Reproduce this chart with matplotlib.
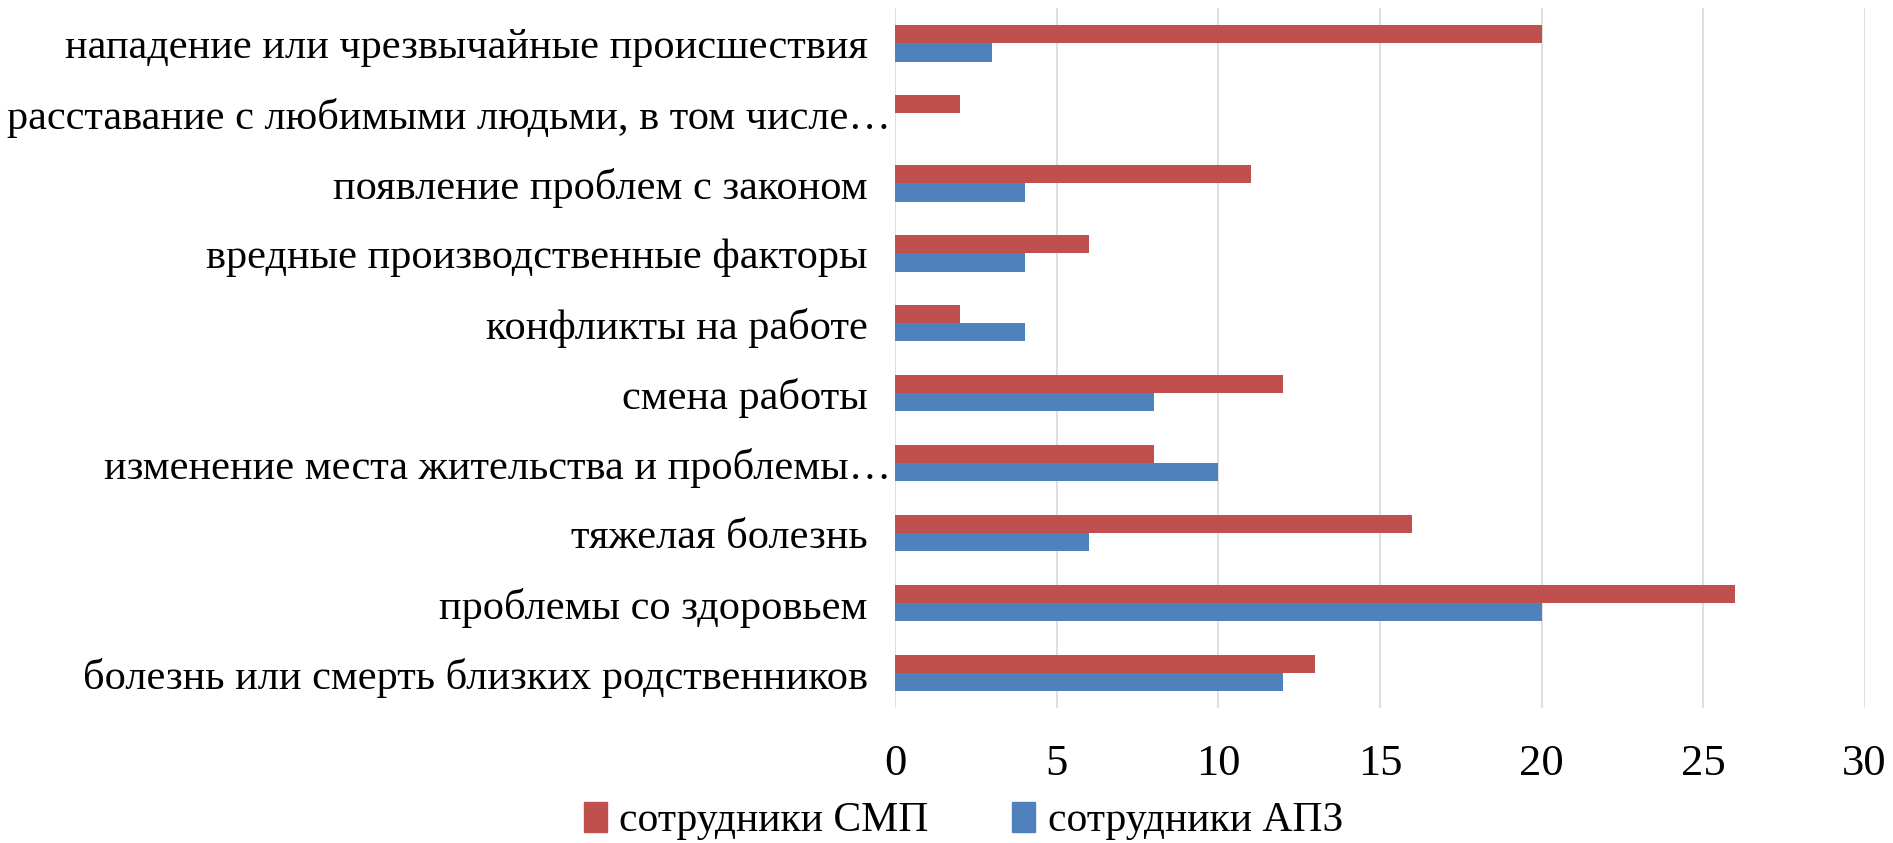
import matplotlib
matplotlib.use("Agg")
import matplotlib.pyplot as plt
from matplotlib.patches import Patch
import numpy as np

categories = [
    "нападение или чрезвычайные происшествия",
    "расставание с любимыми людьми, в том числе…",
    "появление проблем с законом",
    "вредные производственные факторы",
    "конфликты на работе",
    "смена работы",
    "изменение места жительства и проблемы…",
    "тяжелая болезнь",
    "проблемы со здоровьем",
    "болезнь или смерть близких родственников",
]
smp = [20, 2, 11, 6, 2, 12, 8, 16, 26, 13]
apz = [3, 0, 4, 4, 4, 8, 10, 6, 20, 12]
series_names = ["сотрудники СМП", "сотрудники АПЗ"]
xticks = [0, 5, 10, 15, 20, 25, 30]

RED = "#c0504d"
BLUE = "#4f81bd"

plt.rcParams['font.family'] = ['Liberation Serif', 'DejaVu Serif']

fig = plt.figure(figsize=(18.93, 8.43), dpi=100)
ax = fig.add_axes([0.473, 0.160, 0.512, 0.830])

n = len(categories)
y = np.arange(n)[::-1]
h = 0.26
ax.barh(y + h / 2, smp, height=h, color=RED, label=series_names[0])
ax.barh(y - h / 2, apz, height=h, color=BLUE, label=series_names[1])

ax.set_ylim(-0.5, n - 0.5)
ax.set_xlim(0, 30)
ax.set_xticks(xticks)
ax.set_xticklabels([str(t) for t in xticks])
ax.set_yticks(y)
ax.set_yticklabels(categories)
ax.tick_params(axis='x', length=0, pad=26, labelsize=32)
ax.tick_params(axis='y', length=0, pad=20, labelsize=30.5)
for tick, lab in zip(ax.yaxis.get_major_ticks(), categories):
    if lab.endswith("…"):
        tick.set_pad(3)
ax.grid(axis='x', color='#d9d9d9', linewidth=1.2)
ax.set_axisbelow(True)
for s in ax.spines.values():
    s.set_visible(False)

handles = [Patch(color=RED), Patch(color=BLUE)]
fig.legend(handles, series_names, loc='center', bbox_to_anchor=(0.509, 0.026),
           ncol=2, frameon=False, fontsize=30, handlelength=0.55, handleheight=0.75,
           handletextpad=0.3, columnspacing=2.0)

fig.savefig("out.png", dpi=100)
